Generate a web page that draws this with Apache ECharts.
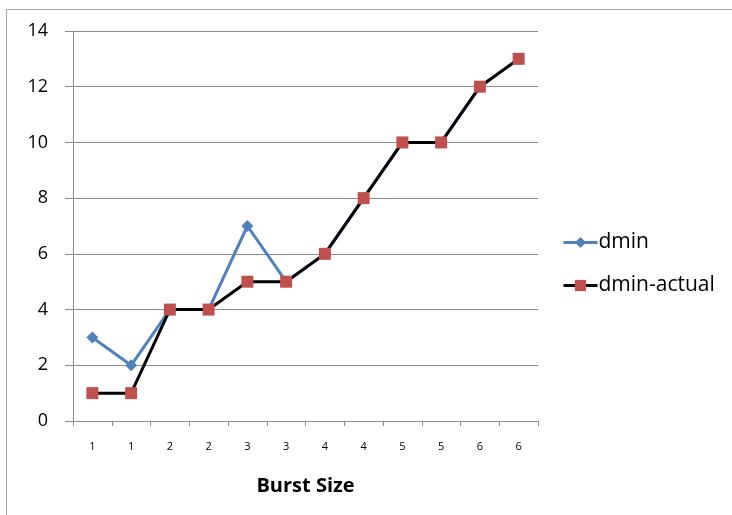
<!DOCTYPE html>
<html>
<head>
<meta charset="utf-8">
<script src="https://cdn.jsdelivr.net/npm/echarts@6/dist/echarts.min.js"></script>
<style>
  html, body { margin: 0; padding: 0; background: #fff; }
  #chart { width: 732px; height: 515px; }
</style>
</head>
<body>
<div id="chart"></div>
<script>
// Burst size categories and the two dmin series
const burstSizes = ['1', '1', '2', '2', '3', '3', '4', '4', '5', '5', '6', '6'];
const dmin       = [3, 2, 4, 4, 7, 5, 6, 8, 10, 10, 12, 13];
const dminActual = [1, 1, 4, 4, 5, 5, 6, 8, 10, 10, 12, 13];
const yTicks = { min: 0, max: 14, interval: 2 };

const FONT = '"Open Sans", "Noto Sans", sans-serif';
const chart = echarts.init(document.getElementById('chart'), null, { renderer: 'canvas' });

chart.setOption({
  animation: false,
  backgroundColor: '#fff',
  graphic: [{
    type: 'rect',
    shape: { x: 6.5, y: 9.5, width: 760, height: 540 },
    style: { fill: 'none', stroke: '#a6a6a6', lineWidth: 1 },
    silent: true
  }],
  grid: { left: 73, top: 31, width: 465, height: 390, containLabel: false },
  legend: {
    orient: 'vertical',
    left: 557,
    top: 227,
    itemWidth: 34,
    itemHeight: 14,
    itemGap: 22,
    lineStyle: { width: 3 },
    textStyle: { fontFamily: FONT, fontSize: 21, color: '#000', padding: [0, 0, 0, -4] },
    data: ['dmin', 'dmin-actual']
  },
  xAxis: {
    type: 'category',
    data: burstSizes,
    boundaryGap: true,
    name: 'Burst Size',
    nameLocation: 'middle',
    nameGap: 55,
    nameTextStyle: { fontFamily: FONT, fontSize: 20, fontWeight: 'bold', color: '#000' },
    axisLine: { lineStyle: { color: '#8c8c8c', width: 1 } },
    axisTick: { show: true, length: 5, alignWithLabel: false, lineStyle: { color: '#8c8c8c' } },
    axisLabel: { fontFamily: FONT, fontSize: 11, color: '#000', margin: 20 },
    splitLine: { show: false }
  },
  yAxis: {
    type: 'value',
    min: yTicks.min,
    max: yTicks.max,
    interval: yTicks.interval,
    axisLine: { show: true, lineStyle: { color: '#8c8c8c', width: 1 } },
    axisTick: { show: true, length: 8, inside: false, lineStyle: { color: '#8c8c8c' } },
    axisLabel: { fontFamily: FONT, fontSize: 18, color: '#000', margin: 25 },
    splitLine: { show: true, lineStyle: { color: '#8c8c8c', width: 1 } }
  },
  series: [
    {
      name: 'dmin',
      type: 'line',
      data: dmin,
      symbol: 'diamond',
      symbolSize: 12,
      color: '#4F81BD',
      lineStyle: { color: '#4F81BD', width: 3 },
      itemStyle: { color: '#4F81BD' },
      z: 2
    },
    {
      name: 'dmin-actual',
      type: 'line',
      data: dminActual,
      symbol: 'rect',
      symbolSize: 12,
      color: '#C0504D',
      lineStyle: { color: '#000', width: 3 },
      itemStyle: { color: '#C0504D' },
      z: 3
    }
  ]
});
</script>
</body>
</html>
